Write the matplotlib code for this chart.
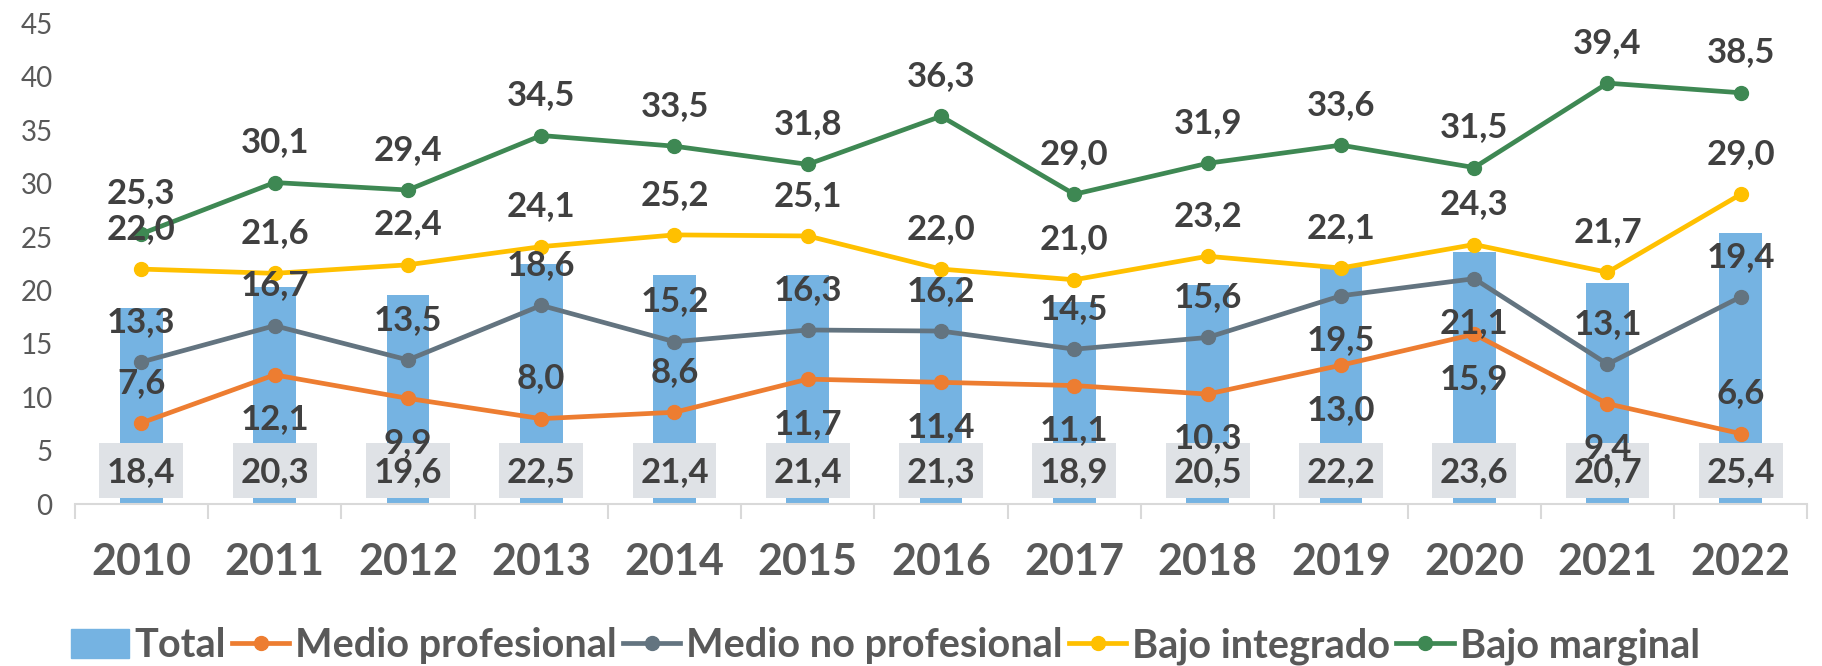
import matplotlib.pyplot as plt
import numpy as np
from matplotlib.lines import Line2D
from matplotlib.patches import Patch

plt.rcParams['font.family'] = ['Lato', 'DejaVu Sans']

# data
years = ['2010', '2011', '2012', '2013', '2014', '2015', '2016',
         '2017', '2018', '2019', '2020', '2021', '2022']
total = [18.4, 20.3, 19.6, 22.5, 21.4, 21.4, 21.3, 18.9, 20.5, 22.2, 23.6, 20.7, 25.4]
medio_prof = [7.6, 12.1, 9.9, 8.0, 8.6, 11.7, 11.4, 11.1, 10.3, 13.0, 15.9, 9.4, 6.6]
medio_no_prof = [13.3, 16.7, 13.5, 18.6, 15.2, 16.3, 16.2, 14.5, 15.6, 19.5, 21.1, 13.1, 19.4]
bajo_integrado = [22.0, 21.6, 22.4, 24.1, 25.2, 25.1, 22.0, 21.0, 23.2, 22.1, 24.3, 21.7, 29.0]
bajo_marginal = [25.3, 30.1, 29.4, 34.5, 33.5, 31.8, 36.3, 29.0, 31.9, 33.6, 31.5, 39.4, 38.5]

# label placement: 1 = above the point, -1 = below
pos_prof = [1, -1, -1, 1, 1, -1, -1, -1, -1, -1, -1, -1, 1]
pos_noprof = [1, 1, 1, 1, 1, 1, 1, 1, 1, -1, -1, 1, 1]
pos_integ = [1] * 13
pos_marg = [1] * 13

BLUE = '#75B3E2'
ORANGE = '#ED7D31'
GRAY = '#637480'
YELLOW = '#FFC000'
GREEN = '#3E8853'
LABEL = '#404040'
TICK = '#595959'


def fmt(v):
    return f"{v:.1f}".replace('.', ',')


fig = plt.figure(figsize=(18.22, 6.66), dpi=100)
ax = fig.add_axes([0.041, 0.243, 0.951, 0.722])
x = np.arange(len(years))

ax.bar(x, total, width=0.32, color=BLUE, zorder=1)
# grey boxes behind the total labels
ax.bar(x, 5.15, bottom=0.56, width=0.63, color='#DFE2E6', zorder=2)
for xi, v in zip(x, total):
    ax.text(xi, 3.05, fmt(v), ha='center', va='center', fontsize=25,
            fontweight='bold', color=LABEL, zorder=6)

series = [(medio_prof, ORANGE, pos_prof),
          (medio_no_prof, GRAY, pos_noprof),
          (bajo_integrado, YELLOW, pos_integ),
          (bajo_marginal, GREEN, pos_marg)]
for vals, col, pos in series:
    ax.plot(x, vals, color=col, lw=3.4, marker='o', ms=10, zorder=4)
for vals, col, pos in series:
    for xi, v, p in zip(x, vals, pos):
        off = 29 if p > 0 else -32
        ax.annotate(fmt(v), (xi, v), xytext=(0, off), textcoords='offset points',
                    ha='center', va='center', fontsize=25, fontweight='bold',
                    color=LABEL, zorder=6)

ax.set_xlim(-0.5, len(years) - 0.5)
ax.set_ylim(0, 45)
ax.set_yticks(range(0, 50, 5))
ax.set_xticks(x)
ax.set_xticklabels(years, fontsize=31, fontweight='bold', color=TICK)
ax.set_xticks(np.arange(-0.5, len(years), 1), minor=True)
ax.tick_params(axis='x', which='major', length=0, pad=27)
ax.tick_params(axis='x', which='minor', length=11, width=1.5, color='#D9D9D9')
ax.tick_params(axis='y', length=0, labelsize=20, labelcolor=TICK, pad=16)
for s in ['top', 'right', 'left']:
    ax.spines[s].set_visible(False)
ax.spines['bottom'].set_color('#D9D9D9')
ax.spines['bottom'].set_linewidth(1.5)

handles = [Patch(color=BLUE),
           Line2D([], [], color=ORANGE, lw=3.4, marker='o', ms=10),
           Line2D([], [], color=GRAY, lw=3.4, marker='o', ms=10),
           Line2D([], [], color=YELLOW, lw=3.4, marker='o', ms=10),
           Line2D([], [], color=GREEN, lw=3.4, marker='o', ms=10)]
labels = ['Total', 'Medio profesional', 'Medio no profesional',
          'Bajo integrado', 'Bajo marginal']
leg = fig.legend(handles, labels, loc='center', bbox_to_anchor=(0.486, 0.03),
                 ncol=5, frameon=False, handlelength=1.45, handleheight=0.75,
                 handletextpad=0.15, columnspacing=0.15,
                 prop={'size': 28.5, 'weight': 'bold'})
for t in leg.get_texts():
    t.set_color(TICK)

fig.savefig('out.png', dpi=100)
